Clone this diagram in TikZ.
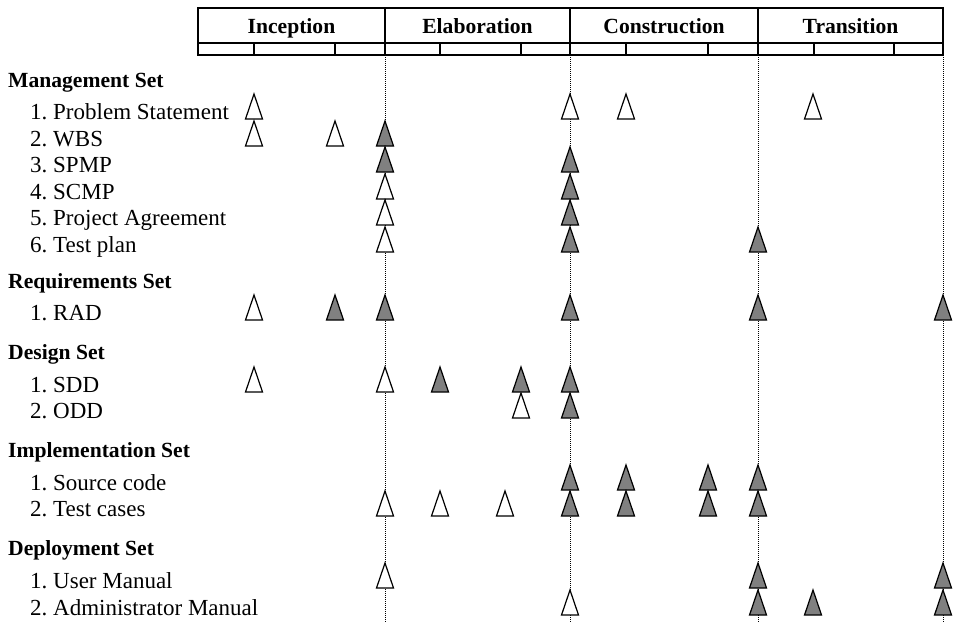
\documentclass[tikz,border=0pt]{standalone}
\usepackage{fontspec}
\setmainfont{Liberation Serif}
\usepackage{tikz}
\definecolor{docgray}{HTML}{808080}
\frenchspacing

\begin{document}
\begin{tikzpicture}[
  x=1pt, y=-1pt,
  item/.style={font=\fontsize{23}{27}\selectfont, inner sep=0pt, anchor=base west},
  sethead/.style={font=\fontsize{21.6}{26}\selectfont\bfseries, inner sep=0pt, anchor=base west},
  phase/.style={sethead, anchor=base},
  frame/.style={line width=1.4pt},
  guide/.style={line width=0.8pt, dash pattern=on 1pt off 1pt},
  doc/.style={line width=1.2pt, line join=miter},
  draftdoc/.style={doc, fill=white},
  basedoc/.style={doc, fill=docgray}
]
  \useasboundingbox (0,0) rectangle (955,622);

  % phase header
  \draw[frame] (198,8) rectangle (943,55);
  \draw[frame] (198,43) -- (943,43);
  \foreach \x in {385,570,758} \draw[frame] (\x,8) -- (\x,55);
  \foreach \x in {254,335,440,521,626,708,814,894} \draw[frame] (\x,43) -- (\x,55);
  \node[phase] (inception) at (291.5,33) {Inception};
  \node[phase] (elaboration) at (477.5,33) {Elaboration};
  \node[phase] (construction) at (664,33) {Construction};
  \node[phase] (transition) at (850.5,33) {Transition};

  % milestone guides
  \foreach \x in {385,570,758,943} \draw[guide] (\x,55) -- (\x,622);

  % document sets
  \node[sethead] (mgmt) at (8,87) {Management Set};
  \node[sethead] (req) at (8,288) {Requirements Set};
  \node[sethead] (design) at (8,359) {Design Set};
  \node[sethead] (impl) at (8,457) {Implementation Set};
  \node[sethead] (deploy) at (8,555) {Deployment Set};

  \foreach \nm/\y/\txt in {
      probstmt/119/{1. Problem Statement}, wbs/146/{2. WBS}, spmp/172/{3. SPMP},
      scmp/199/{4. SCMP}, agreement/225/{5. Project Agreement}, testplan/252/{6. Test plan},
      rad/320/{1. RAD}, sdd/392/{1. SDD}, odd/418/{2. ODD},
      source/490/{1. Source code}, testcases/516/{2. Test cases},
      usermanual/588/{1. User Manual}, adminmanual/615/{2. Administrator Manual}}
    \node[item] (\nm) at (30,\y) {\txt};

  % draft versions
  \foreach \x/\y in {254/119, 570/119, 626/119, 813/119, 254/146, 335/146,
      385/199, 385/225, 385/252, 254/320, 254/392, 385/392, 521/418,
      385/516, 440/516, 505/516, 385/588, 570/615}
    \draw[draftdoc] (\x-8.5,\y) -- ++(8.5,-25) -- ++(8.5,25) -- cycle;

  % baselined versions
  \foreach \x/\y in {385/146, 385/172, 570/172, 570/199, 570/225, 570/252, 758/252,
      335/320, 385/320, 570/320, 758/320, 943/320,
      440/392, 521/392, 570/392, 570/418,
      570/490, 626/490, 708/490, 758/490, 570/516, 626/516, 708/516, 758/516,
      758/588, 943/588, 758/615, 813/615, 943/615}
    \draw[basedoc] (\x-8.5,\y) -- ++(8.5,-25) -- ++(8.5,25) -- cycle;
\end{tikzpicture}
\end{document}
